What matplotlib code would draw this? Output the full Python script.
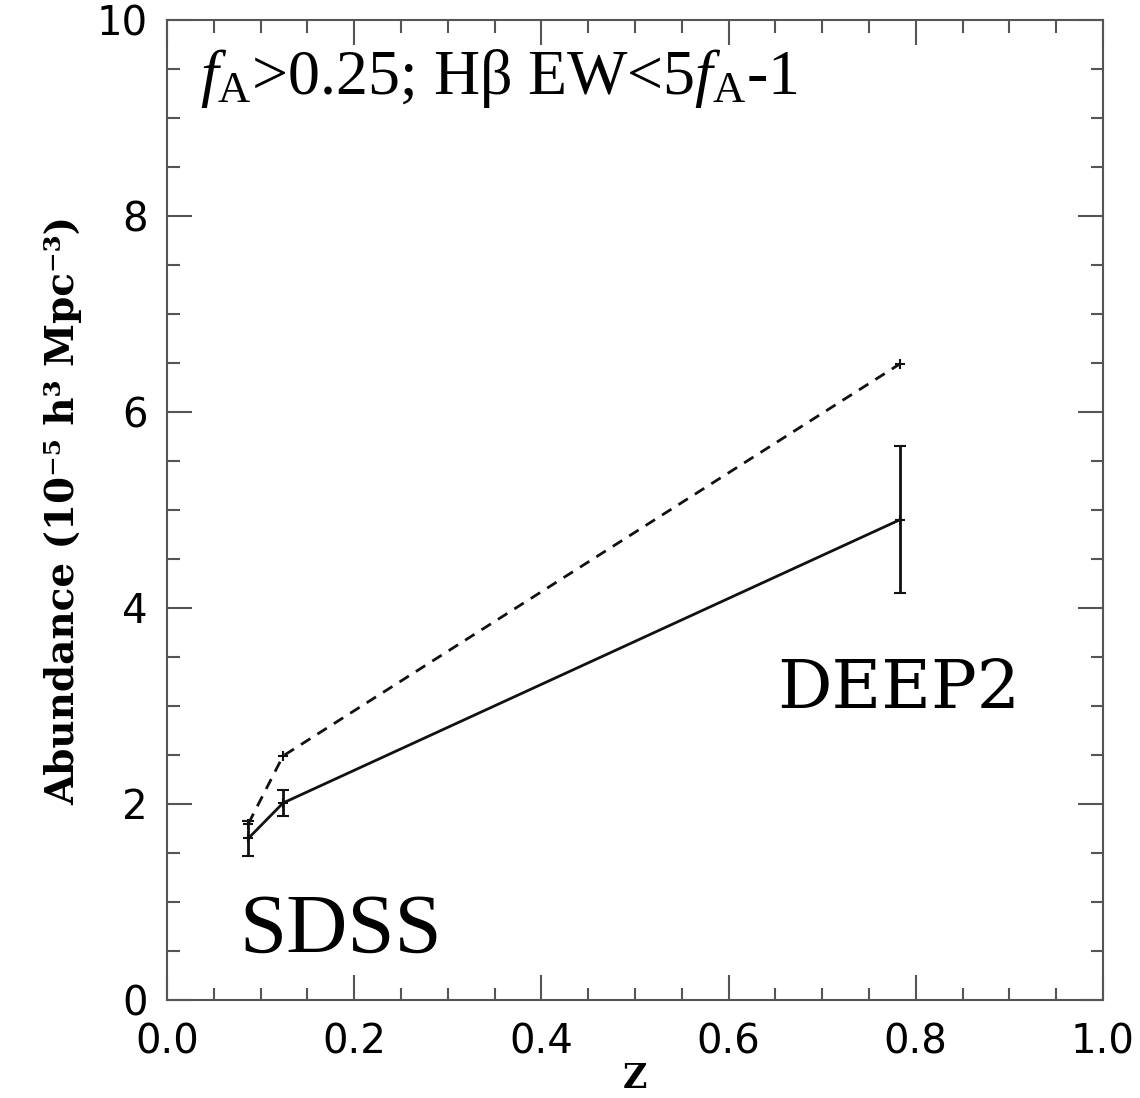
import matplotlib
matplotlib.use("Agg")
import matplotlib.pyplot as plt
from matplotlib.ticker import MultipleLocator

plt.rcParams['mathtext.fontset'] = 'custom'
plt.rcParams['mathtext.rm'] = 'Liberation Serif'
plt.rcParams['mathtext.it'] = 'Liberation Serif:italic'

# Data
z = [0.087, 0.124, 0.783]
abund_solid = [1.65, 2.01, 4.90]
err_solid = [0.18, 0.13, 0.75]
abund_dashed = [1.80, 2.49, 6.49]

x_ticks = [0.0, 0.2, 0.4, 0.6, 0.8, 1.0]
y_ticks = [0, 2, 4, 6, 8, 10]

fig = plt.figure(figsize=(11.4, 10.98), dpi=100)
ax = fig.add_axes([0.1465, 0.0893, 0.8210, 0.8925])

ax.plot(z, abund_dashed, ls=(0, (4, 3)), color='#111111', lw=2.0,
        marker='+', ms=7, mew=1.5)
ax.errorbar(z, abund_solid, yerr=err_solid, color='#111111', lw=2.0,
            elinewidth=2.0, capsize=4, capthick=2.0, marker='+', ms=7, mew=1.5)

ax.set_xlim(0, 1.0)
ax.set_ylim(0, 10)
ax.set_xticks(x_ticks)
ax.set_yticks(y_ticks)
ax.set_xticklabels([f"{v:.1f}" for v in x_ticks])
ax.set_yticklabels([str(v) for v in y_ticks])
ax.xaxis.set_minor_locator(MultipleLocator(0.05))
ax.yaxis.set_minor_locator(MultipleLocator(0.5))
ax.tick_params(which='both', direction='in', top=True, right=True,
               color='#555555', width=1.5, labelsize=29, labelcolor='black')
ax.tick_params(which='major', length=18)
ax.tick_params(which='minor', length=9)
ax.tick_params(axis='y', pad=14)
ax.tick_params(axis='x', pad=16)
for s in ax.spines.values():
    s.set_color('#555555')
    s.set_linewidth(1.5)

ax.set_xlabel('Z', family='DejaVu Serif', fontsize=24, fontweight='bold', labelpad=0)
ax.set_ylabel('Abundance (10⁻⁵ h³ Mpc⁻³)', family='DejaVu Serif',
              fontsize=28, fontweight='bold', labelpad=10)

ax.text(0.035, 0.972, r'$\mathit{f}_\mathrm{A}$>0.25; Hβ EW<5$\mathit{f}_\mathrm{A}$-1',
        transform=ax.transAxes, family='Liberation Serif', fontsize=46,
        va='top', ha='left')
ax.text(0.652, 0.284, 'DEEP2', transform=ax.transAxes, family='DejaVu Serif',
        fontsize=49, va='bottom', ha='left')
ax.text(0.077, 0.03, 'SDSS', transform=ax.transAxes, family='Liberation Serif',
        fontsize=61, va='bottom', ha='left')

fig.savefig('out.png', dpi=100, facecolor='white')
